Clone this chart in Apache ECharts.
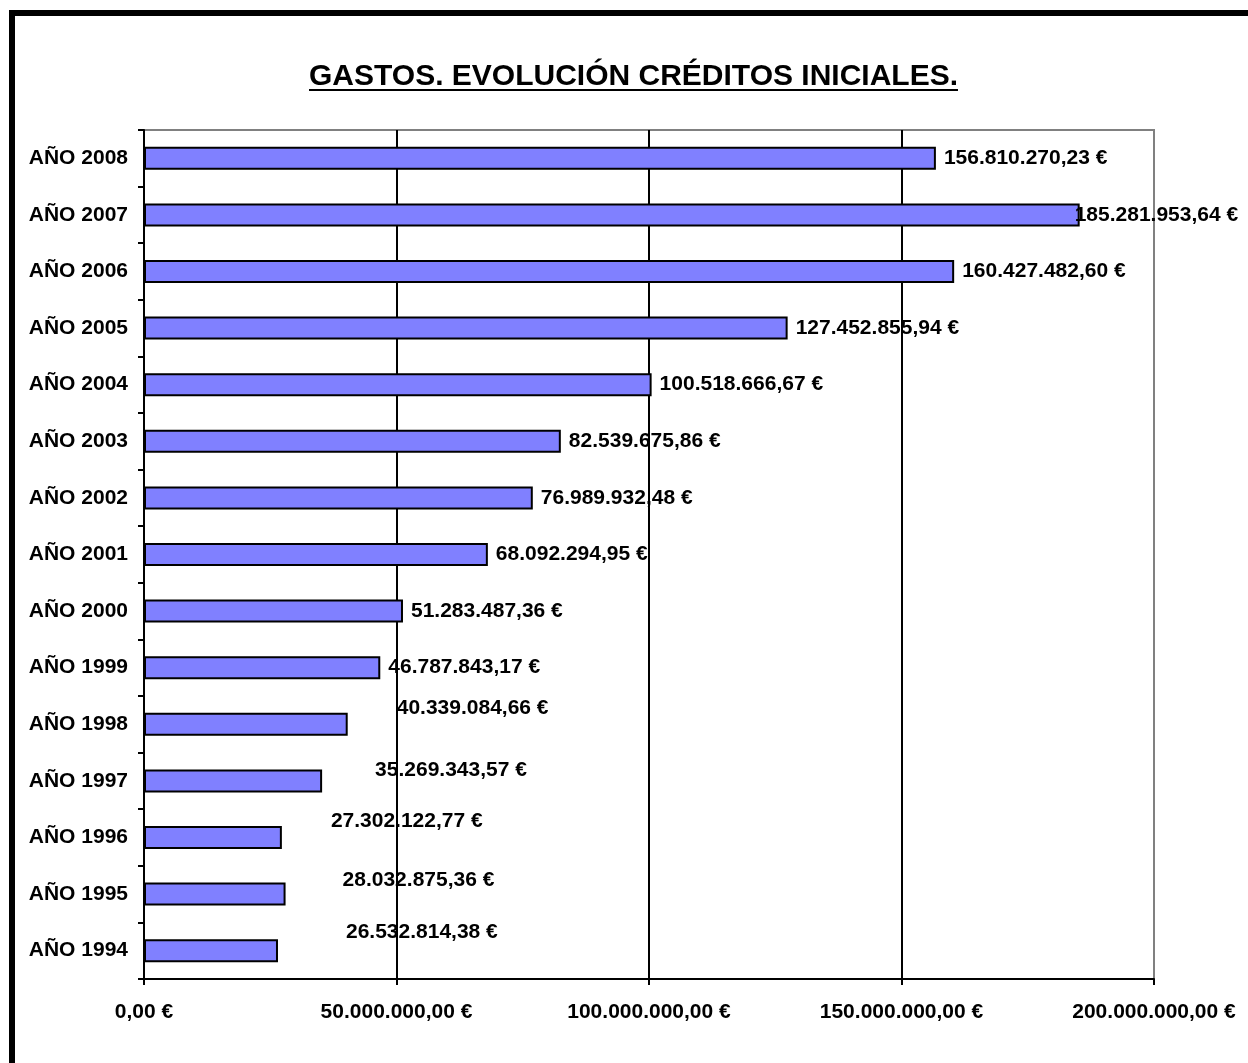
<!DOCTYPE html>
<html>
<head>
<meta charset="utf-8">
<script src="https://cdn.jsdelivr.net/npm/echarts@6/dist/echarts.min.js"></script>
<style>
html,body{margin:0;padding:0;background:#fff;}
#chart{width:1248px;height:1063px;}
</style>
</head>
<body>
<div id="chart"></div>
<script>
const categories = ['AÑO 1994','AÑO 1995','AÑO 1996','AÑO 1997','AÑO 1998','AÑO 1999','AÑO 2000','AÑO 2001','AÑO 2002','AÑO 2003','AÑO 2004','AÑO 2005','AÑO 2006','AÑO 2007','AÑO 2008'];
const values = [26532814.38, 28032875.36, 27302122.77, 35269343.57, 40339084.66, 46787843.17, 51283487.36, 68092294.95, 76989932.48, 82539675.86, 100518666.67, 127452855.94, 160427482.60, 185281953.64, 156810270.23];
const axisMin = 0, axisMax = 200000000, axisStep = 50000000;
const titleText = 'GASTOS. EVOLUCIÓN CRÉDITOS INICIALES.';
// label displacement (layout only)
const labelShift = [[60,-18],[49,-14],[41,-16],[45,-11],[41,-16],[0,0],[0,0],[0,0],[0,0],[0,0],[0,0],[0,0],[0,0],[-13,0],[0,0]];

const FONT = '"Liberation Sans", Arial, sans-serif';
function fmt(v){
  const s = v.toFixed(2).split('.');
  return s[0].replace(/\B(?=(\d{3})+(?!\d))/g,'.') + ',' + s[1] + ' €';
}
const cv = document.createElement('canvas').getContext('2d');
cv.font = 'bold 30px ' + FONT;
const tw = cv.measureText(titleText).width;
const tcx = 633.5;

const chart = echarts.init(document.getElementById('chart'), null, {renderer:'canvas'});
chart.setOption({
  animation:false,
  backgroundColor:'#fff',
  grid:{left:144,right:94,top:130,bottom:84,show:true,borderColor:'#808080',borderWidth:2,backgroundColor:'transparent'},
  xAxis:{
    type:'value',min:axisMin,max:axisMax,interval:axisStep,
    axisLine:{show:true,lineStyle:{color:'#000',width:2}},
    axisTick:{show:true,inside:false,length:6,lineStyle:{color:'#000',width:2}},
    splitLine:{show:true,lineStyle:{color:['#000','#000','#000','#000','#808080'],width:2}},
    axisLabel:{margin:23,color:'#000',fontSize:21,fontWeight:'bold',fontFamily:FONT,formatter:fmt}
  },
  yAxis:{
    type:'category',data:categories,
    axisLine:{show:true,lineStyle:{color:'#000',width:2}},
    axisTick:{show:true,inside:false,length:6,lineStyle:{color:'#000',width:2}},
    splitLine:{show:false},
    axisLabel:{margin:16,color:'#000',fontSize:21,fontWeight:'bold',fontFamily:FONT}
  },
  series:[{
    type:'bar',
    barWidth:23,
    data:values.map((v,i)=>({value:v,label:{offset:labelShift[i]}})),
    itemStyle:{color:'#8080FF',borderColor:'#000',borderWidth:2},
    label:{show:true,position:'right',distance:8,color:'#000',fontSize:21,fontWeight:'bold',fontFamily:FONT,formatter:p=>fmt(p.value)},
    z:3
  }],
  graphic:[
    {type:'rect',shape:{x:12,y:13,width:1400,height:1200},style:{fill:null,stroke:'#000',lineWidth:6},silent:true},
    {type:'text',x:tcx,y:77,style:{text:titleText,font:'bold 30px '+FONT,fill:'#000',textAlign:'center',textVerticalAlign:'middle'}},
    {type:'line',shape:{x1:tcx-tw/2,y1:90,x2:tcx+tw/2,y2:90},style:{stroke:'#000',lineWidth:2}}
  ]
});
</script>
</body>
</html>
